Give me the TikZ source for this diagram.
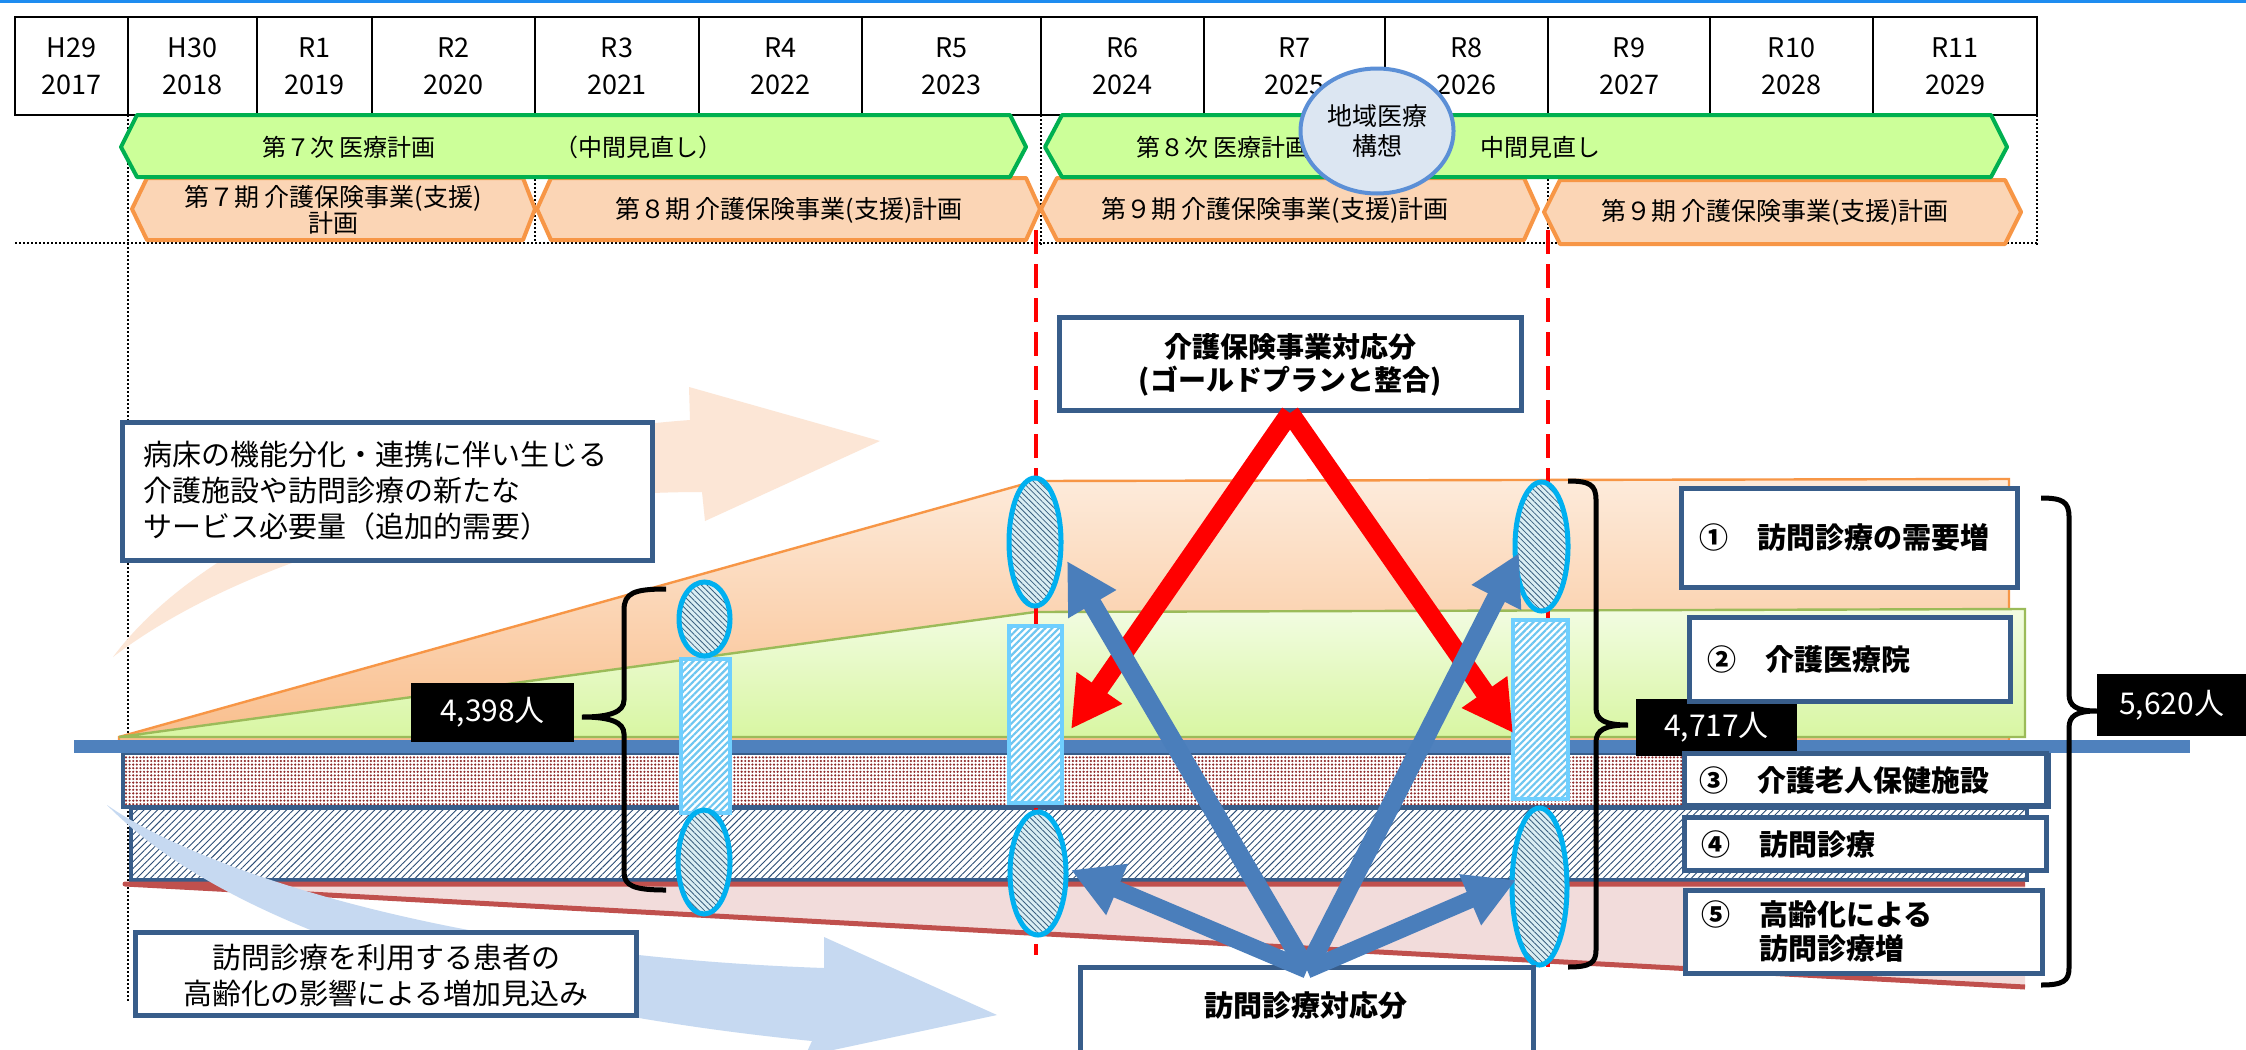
\documentclass[tikz,border=0pt]{standalone}
\usepackage{fontspec}
\setmainfont{Noto Sans CJK JP}
\usetikzlibrary{arrows.meta,shapes.geometric,patterns.meta}
\definecolor{topblue}{HTML}{1E8CF0}
\definecolor{grnfill}{HTML}{CCFF99}
\definecolor{grnline}{HTML}{00B050}
\definecolor{orgfill}{HTML}{FBD5B5}
\definecolor{orgline}{HTML}{F79646}
\definecolor{boxblue}{HTML}{385D8A}
\definecolor{lineblue}{HTML}{4F81BD}
\definecolor{arrblue}{HTML}{4A7EBB}
\definecolor{arrred}{HTML}{FF0000}
\definecolor{cyanline}{HTML}{00B0F0}
\definecolor{rectline}{HTML}{6FCFFF}
\definecolor{ellfill}{HTML}{DAEEF3}
\definecolor{ellhatch}{HTML}{3A6080}
\definecolor{recthatch}{HTML}{6EC6F0}
\definecolor{peach}{HTML}{FCE6D6}
\definecolor{faintblue}{HTML}{C6D9F1}
\definecolor{redline}{HTML}{C0504D}
\definecolor{pinkfill}{HTML}{F2DCDB}
\definecolor{dotred}{HTML}{8E2A2A}
\definecolor{hatchnavy}{HTML}{2C4D75}
\definecolor{ovalfill}{HTML}{DCE6F2}
\definecolor{ovalline}{HTML}{5B8FD6}
\definecolor{orgtop}{HTML}{FDEBDB}
\definecolor{orgbot}{HTML}{F9BE8C}
\definecolor{grntop}{HTML}{F2FCE2}
\definecolor{grnbot}{HTML}{D8F6A2}
\definecolor{grnedge}{HTML}{9BBB59}
\tikzset{
  cell/.style={draw=black, line width=1.3pt, minimum height=49pt, inner sep=0pt, align=center, font=\fontsize{13.5}{18.5}\selectfont},
  gbanner/.style={draw=grnline, fill=grnfill, line width=2pt, line join=round},
  obanner/.style={draw=orgline, fill=orgfill, line width=2pt, line join=round},
  bantext/.style={inner sep=0pt, align=center, font=\fontsize{12}{13}\selectfont},
  infobox/.style={draw=boxblue, line width=2.5pt, fill=white, inner sep=0pt},
  plaintext/.style={inner sep=0pt, font=\fontsize{14.5}{18}\selectfont},
  boldtext/.style={inner sep=0pt, font=\bfseries\fontsize{14.5}{17}\selectfont},
  numlabel/.style={fill=black, text=white, inner sep=0pt, font=\fontsize{15}{15}\selectfont},
  bracepath/.style={draw=black, line width=2.5pt},
  hatchoval/.style={ellipse, draw=cyanline, line width=2.5pt, preaction={fill=ellfill}, pattern={Lines[angle=-45,distance=2pt,line width=0.4pt]}, pattern color=ellhatch, inner sep=0pt},
  hatchbar/.style={rectangle, draw=rectline, line width=2pt, preaction={fill=white}, pattern={Lines[angle=45,distance=2.4pt,line width=1.1pt]}, pattern color=recthatch, inner sep=0pt},
  redarrow/.style={draw=arrred, line width=9.5pt, -{Triangle[length=25pt,width=26pt]}},
  bluearrow/.style={draw=arrblue, line width=9.5pt, -{Triangle[length=25pt,width=26pt]}},
  bluearrowthin/.style={draw=arrblue, line width=8.5pt, -{Triangle[length=25pt,width=26pt]}},
  reddash/.style={draw=arrred, line width=2pt, dash pattern=on 12pt off 5pt},
  dotline/.style={draw=black, line width=1pt, dash pattern=on 1pt off 1pt},
}
\begin{document}
\begin{tikzpicture}[x=0.5pt,y=-0.5pt]
\useasboundingbox (0,0) rectangle (2246,1049);
\fill[white] (0,0) rectangle (2246,1049);
\fill[topblue] (0,0) rectangle (2246,3);

% dotted guide lines
\draw[dotline] (128,115) -- (128,1003);
\draw[dotline] (535,115) -- (535,243);
\draw[dotline] (1041,115) -- (1041,245);
\draw[dotline] (1547.5,115) -- (1547.5,245);
\draw[dotline] (2037,115) -- (2037,245);
\draw[dotline] (15,243) -- (2037,243);

% faint peach arrow
\fill[peach] (113,657) .. controls (200,540) and (420,440) .. (690,420) -- (689,387) -- (880,441) -- (705,521) -- (702,492) .. controls (470,492) and (240,560) .. (113,657) -- cycle;

% orange and green areas
\path[draw=orgline, line width=1.2pt, top color=orgtop, bottom color=orgbot] (119,737) -- (1035,481) -- (2009,479) -- (2009,742) -- (119,742) -- cycle;
\path[draw=grnedge, line width=1.2pt, top color=grntop, bottom color=grnbot] (119,737) -- (1035,612) -- (2025,609) -- (2025,737) -- cycle;

% area 5 fill
\fill[pinkfill] (125,884) -- (2025,884) -- (2025,987) -- cycle;
% bands 3 and 4
\draw[draw=boxblue, line width=1.8pt, preaction={fill=white}, pattern={Dots[distance=1.8pt,radius=0.6pt]}, pattern color=dotred] (123,753) rectangle (2049,807);
\draw[draw=boxblue, line width=1.8pt, preaction={fill=white}, pattern={Lines[angle=45,distance=2.4pt,line width=0.45pt]}, pattern color=hatchnavy] (131,808) rectangle (2027,880);
\draw[draw=redline, line width=2.5pt, line join=round] (2025,884) -- (125,884) -- (2025,987);

% faint blue arrow
\fill[faintblue] (107,805) .. controls (200,870) and (450,955) .. (824,968) -- (824,937) -- (997,1015) -- (805,1056) -- (812,1041) .. controls (500,1010) and (230,930) .. (107,805) -- cycle;

% blue base line
\fill[lineblue] (74,740) rectangle (2190,753);

% red dashed lines
\draw[reddash] (1036,230) -- (1036,955);
\draw[reddash] (1548,230) -- (1548,967);

% year table
\node[cell, minimum width=56.5pt] (c1) at (71.5,66) {H29\\2017};
\node[cell, minimum width=64.5pt] (c2) at (192.5,66) {H30\\2018};
\node[cell, minimum width=57.5pt] (c3) at (314.5,66) {R1\\2019};
\node[cell, minimum width=81.5pt] (c4) at (453.5,66) {R2\\2020};
\node[cell, minimum width=82pt] (c5) at (617,66) {R3\\2021};
\node[cell, minimum width=81.5pt] (c6) at (780.5,66) {R4\\2022};
\node[cell, minimum width=89.5pt] (c7) at (951.5,66) {R5\\2023};
\node[cell, minimum width=81.5pt] (c8) at (1122.5,66) {R6\\2024};
\node[cell, minimum width=90.5pt] (c9) at (1294.5,66) {R7\\2025};
\node[cell, minimum width=81.5pt] (c10) at (1466.5,66) {R8\\2026};
\node[cell, minimum width=81pt] (c11) at (1629,66) {R9\\2027};
\node[cell, minimum width=81.5pt] (c12) at (1791.5,66) {R10\\2028};
\node[cell, minimum width=82pt] (c13) at (1955,66) {R11\\2029};

% orange banners
\draw[obanner] (132,209) -- (147,178) -- (523,178) -- (535,209) -- (523,240) -- (147,240) -- cycle;
\draw[obanner] (537,209) -- (551,178) -- (1026,178) -- (1040,209) -- (1026,240) -- (551,240) -- cycle;
\draw[obanner] (1041,209) -- (1057,178) -- (1524,178) -- (1538,209) -- (1524,240) -- (1057,240) -- cycle;
\draw[obanner] (1544,212) -- (1560,180) -- (2005,180) -- (2021,212) -- (2005,244) -- (1560,244) -- cycle;
\node[bantext, font=\fontsize{12.5}{13}\selectfont] (o1) at (333,210) {第７期 介護保険事業(支援)\\計画};
\node[bantext, font=\fontsize{12.5}{13}\selectfont] (o2) at (789,210) {第８期 介護保険事業(支援)計画};
\node[bantext, font=\fontsize{12.5}{13}\selectfont] (o3) at (1275,210) {第９期 介護保険事業(支援)計画};
\node[bantext, font=\fontsize{12.5}{13}\selectfont] (o4) at (1775,212) {第９期 介護保険事業(支援)計画};

% green banners
\draw[gbanner] (121,147) -- (137,115) -- (1010,115) -- (1026,147) -- (1010,177) -- (137,177) -- cycle;
\draw[gbanner] (1045,147) -- (1062,115) -- (1991,115) -- (2007,147) -- (1991,177) -- (1062,177) -- cycle;
\node[bantext] (g1) at (349,147) {第７次 医療計画};
\node[bantext] (g2) at (638,147) {（中間見直し）};
\node[bantext] (g3) at (1223,147) {第８次 医療計画};
\node[bantext] (g4) at (1540,147) {中間見直し};

% regional vision oval
\node[ellipse, draw=ovalline, fill=ovalfill, line width=2pt, minimum width=76.5pt, minimum height=62.5pt, inner sep=0pt, align=center, font=\fontsize{12.5}{15}\selectfont] (kousou) at (1377,131) {地域医療\\構想};

% left text boxes
\node[infobox, minimum width=265pt, minimum height=69pt] (boxA) at (387.5,491.5) {};
\node[plaintext, anchor=west, align=left] (boxAtext) at (143,491) {病床の機能分化・連携に伴い生じる\\介護施設や訪問診療の新たな\\サービス必要量（追加的需要）};
\node[infobox, minimum width=250.5pt, minimum height=41.5pt] (boxB) at (386,974) {};
\node[plaintext, align=center] (boxBtext) at (386,975) {訪問診療を利用する患者の\\高齢化の影響による増加見込み};

% hatched columns
\node[hatchbar, minimum width=24.5pt, minimum height=77pt] (bar1) at (705.5,736) {};
\node[hatchbar, minimum width=26.5pt, minimum height=88.5pt] (bar2) at (1035.5,714.5) {};
\node[hatchbar, minimum width=27.5pt, minimum height=89.5pt] (bar3) at (1540.5,709.5) {};
\node[hatchoval, minimum width=25.5pt, minimum height=37pt] (top1) at (704.5,619) {};
\node[hatchoval, minimum width=26pt, minimum height=52pt] (bot1) at (704,862) {};
\node[hatchoval, minimum width=26pt, minimum height=64pt] (top2) at (1035,542) {};
\node[hatchoval, minimum width=28pt, minimum height=61.5pt] (bot2) at (1038,873.5) {};
\node[hatchoval, minimum width=26.5pt, minimum height=64.5pt] (top3) at (1541.5,546.5) {};
\node[hatchoval, minimum width=27.5pt, minimum height=78.5pt] (bot3) at (1539.5,886.5) {};

% braces
\draw[bracepath] (666,589) .. controls (634,589) and (624,593) .. (624,610) -- (624,700) .. controls (624,712) and (610,717) .. (582,717) .. controls (610,717) and (624,722) .. (624,734) -- (624,872) .. controls (624,886) and (634,890) .. (666,890);
\draw[bracepath] (1568,481) .. controls (1590,481) and (1596,485) .. (1596,500) -- (1596,708) .. controls (1596,720) and (1605,725) .. (1628,725) .. controls (1605,725) and (1596,730) .. (1596,742) -- (1596,950) .. controls (1596,963) and (1590,967) .. (1568,967);
\draw[bracepath] (2041,498) .. controls (2063,498) and (2069,502) .. (2069,517) -- (2069,694) .. controls (2069,706) and (2076,711) .. (2097,711) .. controls (2076,711) and (2069,716) .. (2069,728) -- (2069,968) .. controls (2069,981) and (2063,985) .. (2041,985);

% number labels
\node[numlabel, minimum width=81.5pt, minimum height=29.5pt] (lab1) at (492.5,712.5) {4,398人};
\node[numlabel, minimum width=80.5pt, minimum height=28.5pt] (lab2) at (1716.5,727.5) {4,717人};
\node[numlabel, minimum width=74.5pt, minimum height=31pt] (lab3) at (2171.5,705) {5,620人};

% right legend boxes
\node[infobox, minimum width=168pt, minimum height=49.5pt] (r1) at (1849.5,538) {};
\node[infobox, minimum width=160.5pt, minimum height=42pt] (r2) at (1850,659.5) {};
\node[infobox, minimum width=181pt, minimum height=26pt] (r3) at (1865.5,779.5) {};
\node[infobox, minimum width=181pt, minimum height=26.5pt] (r4) at (1865.5,844) {};
\node[infobox, minimum width=178.5pt, minimum height=41.5pt] (r5) at (1864,932) {};
\node[boldtext, anchor=west] (r1t) at (1699,537) {①　訪問診療の需要増};
\node[boldtext, anchor=west] (r2t) at (1707,659) {②　介護医療院};
\node[boldtext, anchor=west] (r3t) at (1699,780) {③　介護老人保健施設};
\node[boldtext, anchor=west] (r4t) at (1701,844) {④　訪問診療};
\node[boldtext, anchor=west, align=left] (r5t) at (1701,931) {⑤　高齢化による\\\phantom{⑤　}訪問診療増};

% centre boxes
\node[infobox, minimum width=231pt, minimum height=46.5pt] (boxK) at (1290.5,364) {};
\node[boldtext, align=center, font=\bfseries\fontsize{14}{16.5}\selectfont] (boxKt) at (1290,365) {介護保険事業対応分\\(ゴールドプランと整合)};
\node[infobox, minimum width=226.5pt, minimum height=52pt] (boxH) at (1307,1019.5) {};
\node[boldtext] (boxHt) at (1306,1006) {訪問診療対応分};

% arrows
\coordinate (rsrc) at (1290,413);
\coordinate (rtipL) at (1071,729);
\coordinate (rtipR) at (1513,733);
\draw[redarrow] (rsrc) -- (rtipL);
\draw[redarrow] (rsrc) -- (rtipR);
\coordinate (bsrc) at (1307,970);
\coordinate (btip1) at (1067,561);
\coordinate (btip2) at (1519,553);
\coordinate (btip3) at (1071,870);
\coordinate (btip4) at (1516,880);
\draw[bluearrow] (bsrc) -- (btip1);
\draw[bluearrow] (bsrc) -- (btip2);
\draw[bluearrowthin] (bsrc) -- (btip3);
\draw[bluearrowthin] (bsrc) -- (btip4);
\end{tikzpicture}
\end{document}
